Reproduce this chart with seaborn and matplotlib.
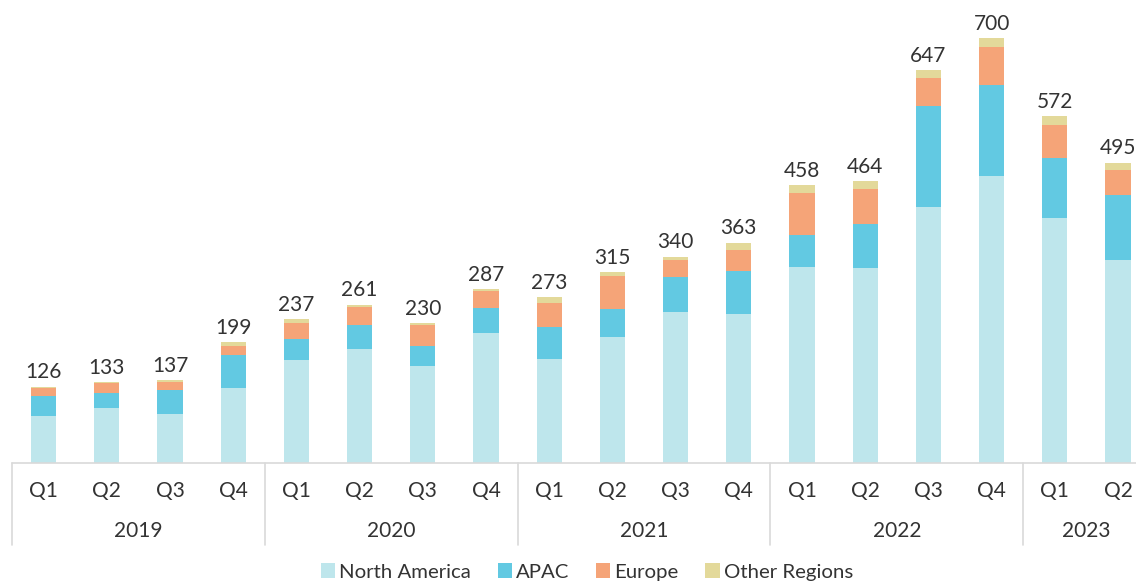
import matplotlib
matplotlib.use("Agg")
import matplotlib.pyplot as plt
import matplotlib.transforms as mtransforms
from matplotlib.patches import Patch
import seaborn as sns
import pandas as pd
import numpy as np

# ---- data ----
years = ["2019", "2020", "2021", "2022", "2023"]
quarters_per_year = [4, 4, 4, 4, 2]
quarter_labels = ["Q1", "Q2", "Q3", "Q4"] * 4 + ["Q1", "Q2"]
north_america = [77, 91, 81, 123, 169, 187, 159, 214, 172, 207, 249, 245, 323, 321, 422, 473, 404, 334]
apac = [33, 25, 40, 55, 36, 41, 34, 42, 52, 47, 58, 71, 52, 73, 166, 150, 99, 108]
europe = [13, 16, 12, 14, 25, 29, 34, 27, 40, 54, 28, 35, 70, 57, 47, 62, 54, 40]
other_regions = [3, 1, 4, 7, 7, 4, 3, 4, 9, 7, 5, 12, 13, 13, 12, 15, 15, 13]
totals = [126, 133, 137, 199, 237, 261, 230, 287, 273, 315, 340, 363, 458, 464, 647, 700, 572, 495]
series_names = ["North America", "APAC", "Europe", "Other Regions"]
colors = ["#BEE6EC", "#62C9E2", "#F5A478", "#E3D99A"]

# ---- build frame ----
period = []
for y, n in zip(years, quarters_per_year):
    for q in range(n):
        period.append(f"{y} Q{q+1}")
df = pd.DataFrame({"period": period,
                   "North America": north_america,
                   "APAC": apac,
                   "Europe": europe,
                   "Other Regions": other_regions})
cum = df[series_names].cumsum(axis=1)

sns.set_theme(style="white")
plt.rcParams["font.family"] = ["Lato", "DejaVu Sans"]
text_color = "#333333"
fs = 15

W, H = 1136, 585
fig = plt.figure(figsize=(W / 100, H / 100), dpi=100)
# axes placement in pixels
left_px = 12
band = 63.2
bottom_px = H - 463
ymax = 740
scale = 0.607
ax_h = ymax * scale
ax = fig.add_axes([left_px / W, bottom_px / H, 18 * band / W, ax_h / H])

for name, col in reversed(list(zip(series_names, colors))):
    sns.barplot(x=df["period"], y=cum[name], order=period, color=col,
                width=0.4, ax=ax, saturation=1, linewidth=0, errorbar=None)

ax.set_xlim(-0.5, len(period) - 0.5)
ax.set_ylim(0, ymax)
for s in ax.spines.values():
    s.set_visible(False)
ax.set_yticks([])
ax.set_ylabel("")
ax.set_xlabel("")
ax.set_xticks(range(len(period)))
ax.set_xticklabels(quarter_labels, fontsize=fs, color=text_color)
ax.tick_params(axis="x", length=0, pad=13)

# baseline
ax.axhline(0, color="#D9D9D9", linewidth=1.2, clip_on=False)

# totals labels
for i, t in enumerate(totals):
    ax.annotate(str(t), (i, cum["Other Regions"][i]), xytext=(0, 3),
                textcoords="offset points", ha="center", va="bottom",
                fontsize=fs, color=text_color)

# group separators and year labels
trans = mtransforms.blended_transform_factory(ax.transData, ax.transAxes)
sep_len = (545 - 463) / ax_h
start = 0
edges = [-0.5]
for y, n in zip(years, quarters_per_year):
    center = start + (n - 1) / 2
    ax.text(center, -68 / ax_h, y, transform=trans, ha="center", va="center",
            fontsize=fs, color=text_color)
    start += n
    edges.append(start - 0.5)
for e in edges[:-1]:
    ax.plot([e, e], [0, -sep_len], transform=trans, color="#D9D9D9",
            linewidth=1.2, clip_on=False)

# legend
handles = [Patch(facecolor=c, edgecolor="none", label=n) for n, c in zip(series_names, colors)]
fig.legend(handles=handles, loc="center", bbox_to_anchor=(587 / W, 13 / H),
           ncol=4, frameon=False, fontsize=14.7, handlelength=0.7, handleheight=0.7,
           handletextpad=0.2, columnspacing=1.3, labelcolor=text_color,
           borderaxespad=0, borderpad=0)

fig.savefig("out.png", dpi=100)
